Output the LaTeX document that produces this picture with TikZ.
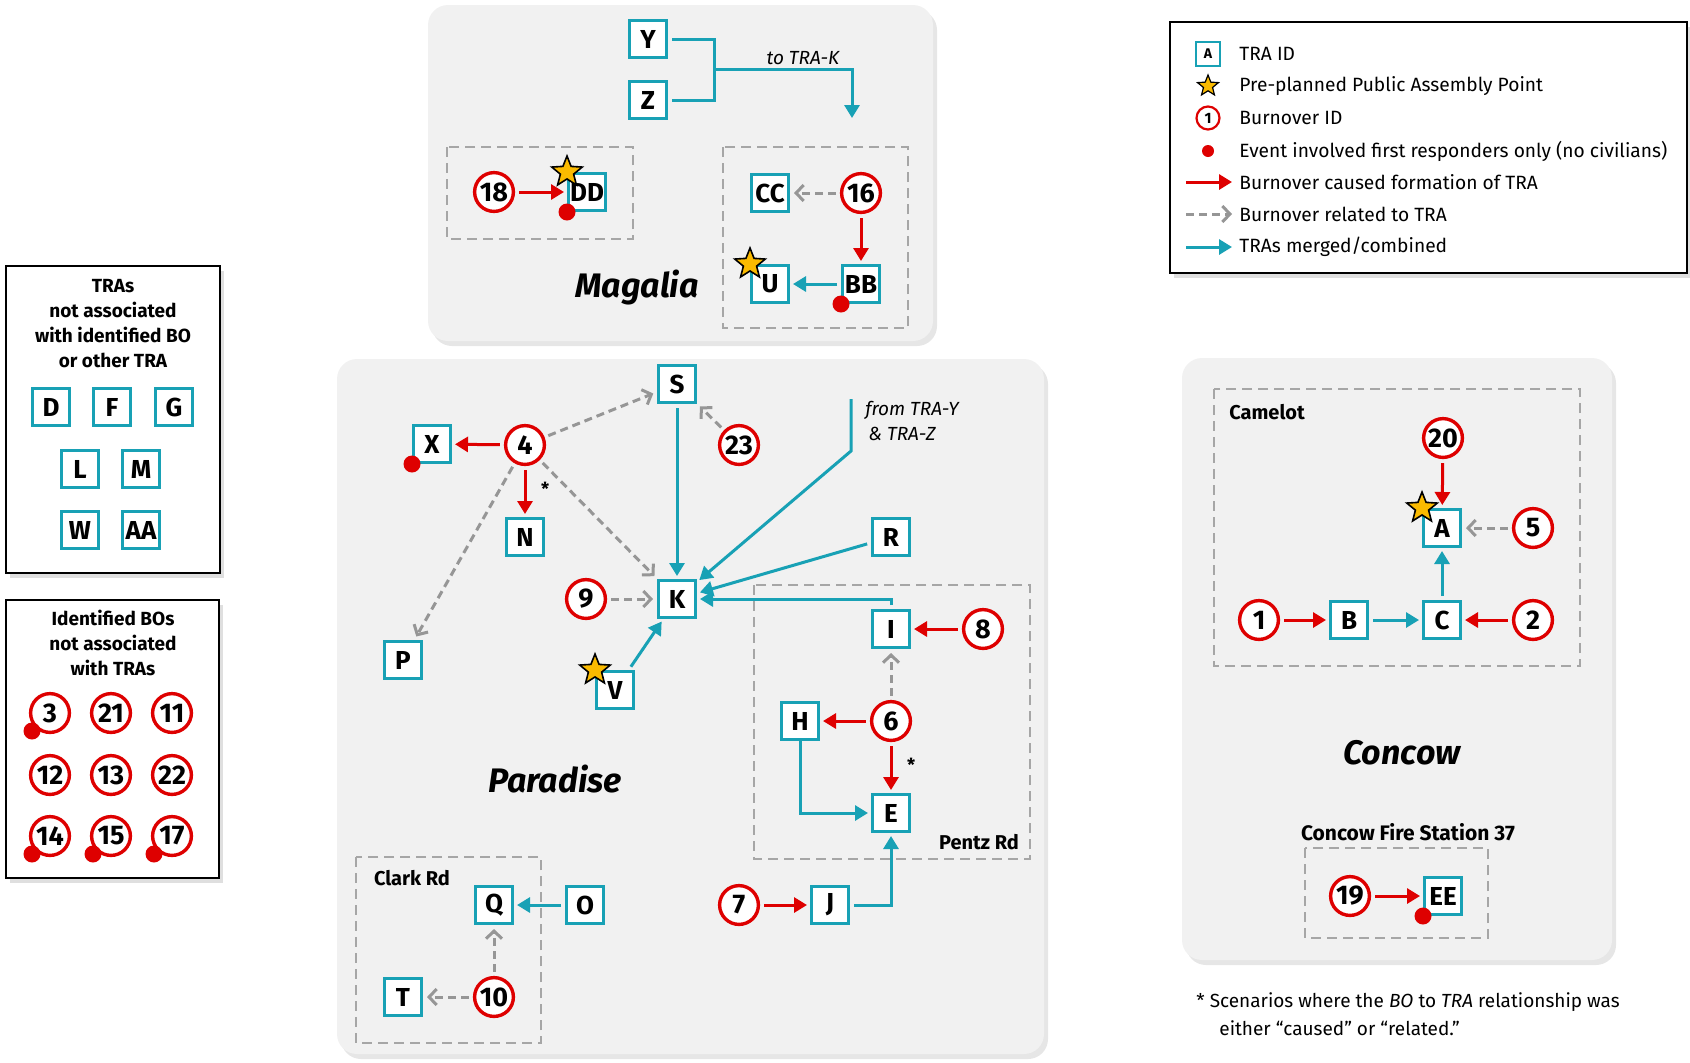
\documentclass[tikz,border=0pt]{standalone}
\usepackage{fontspec}
\setmainfont{Fira Sans}
\usetikzlibrary{arrows.meta,shapes.geometric,shadows}

\definecolor{traTeal}{RGB}{24,161,181}
\definecolor{boRed}{RGB}{222,0,0}
\definecolor{relGray}{RGB}{150,150,150}
\definecolor{panelGray}{RGB}{241,241,241}
\definecolor{starGold}{RGB}{250,186,0}

\tikzset{
	tra/.style={draw=traTeal, line width=1.6pt, fill=white, minimum size=18.4pt, inner sep=0pt, font=\bfseries\fontsize{13}{13}\selectfont},
	bo/.style={circle, draw=boRed, line width=1.7pt, fill=white, minimum size=19.4pt, inner sep=0pt, font=\bfseries\fontsize{13.5}{13.5}\selectfont},
	caused/.style={draw=boRed, line width=1.5pt, -{Triangle[length=6.5pt,width=7.5pt]}, shorten <=2pt, shorten >=1.5pt},
	related/.style={draw=relGray, line width=1.5pt, dash pattern=on 4pt off 2.5pt, -{Straight Barb[length=3.8pt,width=8pt]}, shorten <=2pt, shorten >=2pt},
	merged/.style={draw=traTeal, line width=1.5pt, -{Triangle[length=6.5pt,width=7.5pt]}, shorten <=2pt, shorten >=1.5pt},
	panel/.style={fill=panelGray, rounded corners=10pt, drop shadow={shadow xshift=2pt, shadow yshift=-2.5pt, opacity=0.2}},
	keybox/.style={draw=black, line width=1.3pt, fill=white, drop shadow={shadow xshift=2pt, shadow yshift=-2.5pt, opacity=0.25}},
	zone/.style={draw=relGray!85, line width=1pt, dash pattern=on 5pt off 3pt},
	apoint/.style={star, star points=5, star point ratio=2.3, draw=black, fill=starGold, line width=0.8pt, minimum size=16pt, inner sep=0pt},
	fr/.style={circle, fill=boRed, minimum size=8.5pt, inner sep=0pt},
	town/.style={font=\bfseries\itshape\fontsize{17}{17}\selectfont},
	road/.style={font=\bfseries\fontsize{10}{10}\selectfont},
	keytitle/.style={align=center, font=\bfseries\fontsize{9.5}{12.5}\selectfont},
	keytext/.style={anchor=west, inner sep=0pt, font=\fontsize{9.6}{10}\selectfont},
	note/.style={font=\itshape\fontsize{9.5}{12.5}\selectfont},
}

\begin{document}
\begin{tikzpicture}[x=0.5pt, y=-0.5pt]
	\useasboundingbox (0,0) rectangle (1690,1062);
	%%%%% START %%%%%
	
	% boxes on the left
	\draw[keybox] (6,266) rectangle (220,573);
	\node[keytitle] (tratitle) at (113,324) {TRAs\\not associated\\with identified BO\\or other TRA};
	\node[tra] (D) at (51,407) {D};
	\node[tra] (F) at (112,407) {F};
	\node[tra] (G) at (174,407) {G};
	\node[tra] (L) at (80,469) {L};
	\node[tra] (M) at (141,469) {M};
	\node[tra] (W) at (80,530) {W};
	\node[tra] (AA) at (141,530) {AA};
	
	\draw[keybox] (6,600) rectangle (219,878);
	\node[keytitle] (botitle) at (113,643) {Identified BOs\\not associated\\with TRAs};
	\node[bo] (n3) at (50,713) {3};
	\node[bo] (n21) at (111,713) {21};
	\node[bo] (n11) at (172,713) {11};
	\node[bo] (n12) at (50,775) {12};
	\node[bo] (n13) at (111,775) {13};
	\node[bo] (n22) at (172,775) {22};
	\node[bo] (n14) at (50,836) {14};
	\node[bo] (n15) at (111,836) {15};
	\node[bo] (n17) at (172,836) {17};
	\node[fr] at ([shift={(-18,18)}]n3.center) {};
	\node[fr] at ([shift={(-18,18)}]n14.center) {};
	\node[fr] at ([shift={(-18,18)}]n15.center) {};
	\node[fr] at ([shift={(-18,18)}]n17.center) {};
	
	% legend
	\draw[keybox] (1170,22) rectangle (1687,273);
	\node[tra, minimum size=12pt, line width=1pt, font=\bfseries\fontsize{7}{7}\selectfont] (keytra) at (1208,54) {A};
	\node[keytext] at (1239,54) {TRA ID};
	\node[apoint, minimum size=11pt, line width=0.6pt] (keystar) at (1208,86) {};
	\node[keytext] at (1239,86) {Pre-planned Public Assembly Point};
	\node[bo, minimum size=11.5pt, line width=1.1pt, font=\bfseries\fontsize{7.5}{7.5}\selectfont] (keybo) at (1208,118) {1};
	\node[keytext] at (1239,118) {Burnover ID};
	\node[fr, minimum size=6pt] (keyfr) at (1208,151) {};
	\node[keytext] at (1239,151) {Event involved first responders only (no civilians)};
	\coordinate (keyc1) at (1186,182); \coordinate (keyc2) at (1232,182);
	\draw[caused, shorten <=0pt, shorten >=0pt] (keyc1) -- (keyc2);
	\node[keytext] at (1239,182) {Burnover caused formation of TRA};
	\coordinate (keyr1) at (1186,214); \coordinate (keyr2) at (1232,214);
	\draw[related, shorten <=0pt, shorten >=0pt] (keyr1) -- (keyr2);
	\node[keytext] at (1239,214) {Burnover related to TRA};
	\coordinate (keym1) at (1186,247); \coordinate (keym2) at (1232,247);
	\draw[merged, shorten <=0pt, shorten >=0pt] (keym1) -- (keym2);
	\node[keytext] at (1239,247) {TRAs merged/combined};
	
	% Magalia
	\fill[panel] (428,5) rectangle (933,341);
	\draw[zone] (447,147) rectangle (633,239);
	\draw[zone] (723,147) rectangle (908,328);
	\node[tra] (Y) at (648,39) {Y};
	\node[tra] (Z) at (648,100) {Z};
	\coordinate (yz) at (714,69);
	\coordinate (tok) at (852,118);
	\draw[traTeal, line width=1.5pt, shorten <=2pt] (Y) -| (yz);
	\draw[traTeal, line width=1.5pt, shorten <=2pt] (Z) -| (yz);
	\draw[merged, shorten <=0pt, shorten >=0pt] (yz) -| (tok);
	\node[note] (totrak) at (803,58) {to TRA-K};
	\node[bo] (n18) at (494,192) {18};
	\node[tra] (DD) at (587,192) {DD};
	\draw[caused] (n18) -- (DD);
	\node[apoint] at (DD.north west) {};
	\node[fr] at (DD.south west) {};
	\node[tra] (CC) at (770,193) {CC};
	\node[bo] (n16) at (861,193) {16};
	\node[tra] (BB) at (861,284) {BB};
	\node[tra] (U) at (770,284) {U};
	\draw[related] (n16) -- (CC);
	\draw[caused] (n16) -- (BB);
	\draw[merged] (BB) -- (U);
	\node[apoint] at (U.north west) {};
	\node[fr] at (BB.south west) {};
	\node[town] (magalia) at (637,288) {Magalia};
	
	% Paradise
	\fill[panel] (337,359) rectangle (1044,1054);
	\draw[zone] (754,585) rectangle (1030,859);
	\draw[zone] (356,857) rectangle (541,1043);
	\node[road] (pentz) at (979,842) {Pentz Rd};
	\node[road] (clark) at (412,878) {Clark Rd};
	\node[town] (paradise) at (555,779) {Paradise};
	
	\node[tra] (S) at (677,384) {S};
	\node[tra] (X) at (432,444) {X};
	\node[bo] (n4) at (525,445) {4};
	\node[bo] (n23) at (739,445) {23};
	\node[tra] (N) at (525,537) {N};
	\node[tra] (R) at (891,537) {R};
	\node[bo] (n9) at (586,599) {9};
	\node[tra] (K) at (677,599) {K};
	\node[tra] (P) at (403,660) {P};
	\node[tra] (I) at (891,629) {I};
	\node[bo] (n8) at (983,629) {8};
	\node[tra] (V) at (615,690) {V};
	\node[tra] (H) at (800,721) {H};
	\node[bo] (n6) at (891,721) {6};
	\node[tra] (E) at (891,813) {E};
	\node[bo] (n7) at (739,905) {7};
	\node[tra] (J) at (830,905) {J};
	\node[tra] (Q) at (494,905) {Q};
	\node[tra] (O) at (585,905) {O};
	\node[tra] (T) at (403,997) {T};
	\node[bo] (n10) at (494,997) {10};
	\node[fr] at (X.south west) {};
	\node[apoint] at (V.north west) {};
	
	\draw[caused] (n4) -- (X);
	\draw[caused] (n4) -- node[right, pos=0.45, xshift=4pt, font=\bfseries\fontsize{9}{9}\selectfont] {*} (N);
	\draw[related] (n4) -- (S);
	\draw[related] (n4) -- (K);
	\draw[related] (n4) -- (P);
	\draw[related] (n23) -- (S);
	\draw[related] (n9) -- (K);
	\draw[merged] (S) -- (K);
	\draw[merged] (R) -- (K);
	\draw[merged] (V) -- (K);
	\coordinate (fromyz) at (851,399);
	\coordinate (fromyzbend) at (851,451);
	\draw[merged, shorten <=0pt] (fromyz) -- (fromyzbend) -- (K);
	\node[note, align=left] (fromyzlabel) at (912,421) {from TRA-Y\\\,\& TRA-Z};
	\draw[merged] (I.north) |- (K.east);
	\draw[caused] (n8) -- (I);
	\draw[related] (n6) -- (I);
	\draw[caused] (n6) -- (H);
	\draw[caused] (n6) -- node[right, pos=0.45, xshift=4pt, font=\bfseries\fontsize{9}{9}\selectfont] {*} (E);
	\draw[merged, shorten <=0pt] (H.south) |- (E.west);
	\draw[caused] (n7) -- (J);
	\draw[merged] (J.east) -| (E.south);
	\draw[merged] (O) -- (Q);
	\draw[related] (n10) -- (Q);
	\draw[related] (n10) -- (T);
	
	% Concow
	\fill[panel] (1182,358) rectangle (1612,960);
	\draw[zone] (1214,389) rectangle (1580,666);
	\draw[zone] (1305,848) rectangle (1488,938);
	\node[road] (camelot) at (1267,412) {Camelot};
	\node[town] (concow) at (1402,753) {Concow};
	\node[road, font=\bfseries\fontsize{10.5}{10.5}\selectfont] (station) at (1408,832) {Concow Fire Station 37};
	
	\node[bo] (n20) at (1443,438) {20};
	\node[tra] (A) at (1442,528) {A};
	\node[bo] (n5) at (1533,528) {5};
	\node[bo] (n1) at (1259,620) {1};
	\node[tra] (B) at (1349,620) {B};
	\node[tra] (C) at (1442,620) {C};
	\node[bo] (n2) at (1533,620) {2};
	\node[apoint] at (A.north west) {};
	\draw[caused] (n20) -- (A);
	\draw[related] (n5) -- (A);
	\draw[caused] (n1) -- (B);
	\draw[merged] (B) -- (C);
	\draw[merged] (C) -- (A);
	\draw[caused] (n2) -- (C);
	
	\node[bo] (n19) at (1350,896) {19};
	\node[tra] (EE) at (1443,896) {EE};
	\draw[caused] (n19) -- (EE);
	\node[fr] at (EE.south west) {};
	
	% footnote
	\node[anchor=west, inner sep=0pt, font=\fontsize{9.5}{9.5}\selectfont] (foot1) at (1196,1002) {* Scenarios where the \textit{BO} to \textit{TRA} relationship was};
	\node[anchor=west, inner sep=0pt, font=\fontsize{9.5}{9.5}\selectfont] (foot2) at (1219,1028) {either “caused” or “related.”};
	
	%%%%% END %%%%%
\end{tikzpicture}
\end{document}
